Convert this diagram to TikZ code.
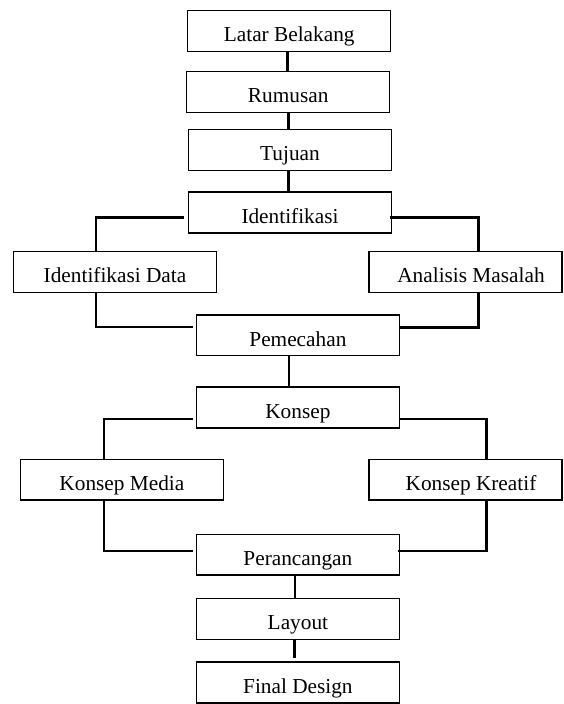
\documentclass[tikz,border=0pt]{standalone}
\usepackage{fontspec}
\setmainfont{Liberation Serif}
\usetikzlibrary{calc}
\begin{document}
\begin{tikzpicture}[x=1pt,y=-1pt,
  box/.style={draw,line width=1.5pt,minimum width=203pt,minimum height=40.6pt,
    inner sep=0pt,text height=31pt,text depth=9.6pt,
    font=\fontsize{21.3}{23}\selectfont},
  thk/.style={line width=2.7pt},
  mid/.style={line width=2.2pt},
  thn/.style={line width=1.6pt}]
\useasboundingbox (0,0) rectangle (563,704);
\node[box] (lb) at (289.2,31) {Latar Belakang};
\node[box] (rum) at (288.2,92) {Rumusan};
\node[box] (tuj) at (290,150) {Tujuan};
\node[box] (idf) at (290,212.5) {Identifikasi};
\node[box] (idd) at (115,272) {Identifikasi Data};
\node[box,minimum width=193pt] (ana) at (465.5,272) {\hspace*{11pt}Analisis Masalah};
\node[box] (pem) at (297.9,335.3) {Pemecahan};
\node[box] (kon) at (297.9,407.5) {Konsep};
\node[box] (kmed) at (121.9,479.7) {Konsep Media};
\node[box,minimum width=193pt] (kkre) at (465.5,479.7) {\hspace*{11pt}Konsep Kreatif};
\node[box] (per) at (297.9,554.9) {Perancangan};
\node[box] (lay) at (297.9,619) {Layout};
\node[box] (fin) at (297.9,682.5) {Final Design};
% vertical links
\draw[thk] ([xshift=-1.9pt]lb.south) -- ([xshift=-0.9pt]rum.north);
\draw[thk] ([xshift=0.1pt]rum.south) -- ([xshift=-1.7pt]tuj.north);
\draw[thk] ([xshift=-1.7pt]tuj.south) -- ([xshift=-1.7pt]idf.north);
\draw[thn] ([xshift=-8.9pt]pem.south) -- ([xshift=-8.9pt]kon.north);
\draw[thn] ([xshift=-2.7pt]per.south) -- ([xshift=-2.7pt]lay.north);
\draw[thk,shorten >=3.3pt] ([xshift=-3.5pt]lay.south) -- ([xshift=-3.5pt]fin.north);
% branch coordinates
\coordinate (b1) at (96,217.3);
\coordinate (b2) at (478.3,217.3);
\coordinate (b3) at (96,327);
\coordinate (b4) at (478.3,327.3);
\coordinate (b5) at (104.1,418.7);
\coordinate (b6) at (486.5,418.7);
\coordinate (b7) at (104.1,550.7);
\coordinate (b8) at (486.5,550.7);
% branches
\draw[thk] ($(idf.west|-b1)+(-3.5,0)$) -| (idd.north -| b1);
\draw[thk] ($(idf.east|-b2)+(-1.8,0)$) -| (ana.north -| b2);
\draw[mid] (idd.south -| b3) |- ($(pem.west|-b3)+(-2.5,0)$);
\draw[thk] (ana.south -| b4) |- ($(pem.east|-b4)+(-1.5,0)$);
\draw[mid] ($(kon.west|-b5)+(-2.5,0)$) -| (kmed.north -| b5);
\draw[mid] ($(kon.east|-b6)+(-1.5,0)$) -| (kkre.north -| b6);
\draw[mid] (kmed.south -| b7) |- ($(per.west|-b7)+(-2.5,0)$);
\draw[mid] (kkre.south -| b8) |- ($(per.east|-b8)+(-2.5,0)$);
\end{tikzpicture}
\end{document}
